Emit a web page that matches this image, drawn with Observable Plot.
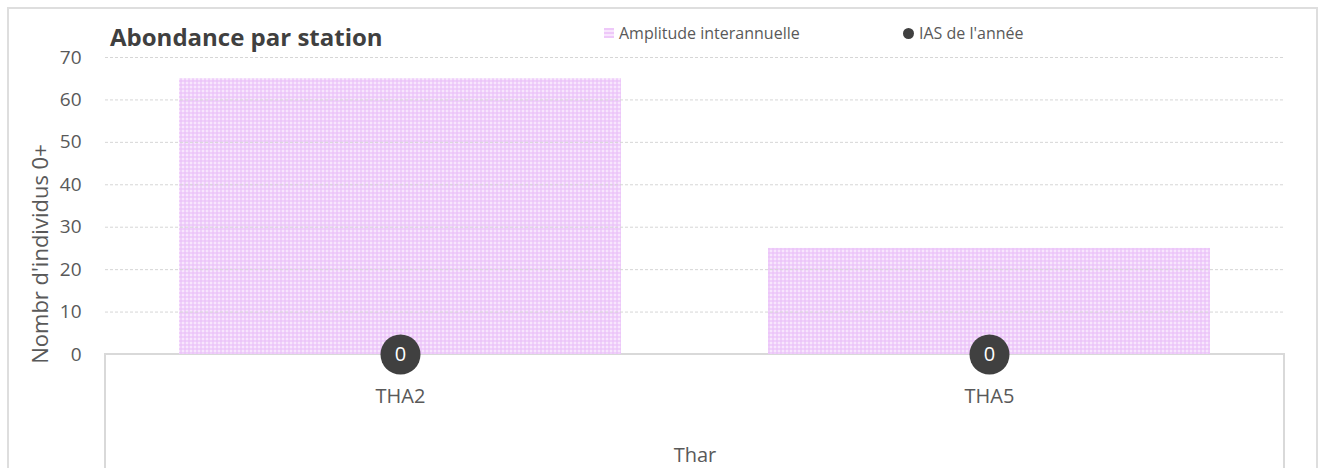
<!DOCTYPE html>
<html>
<head>
<meta charset="utf-8">
<script src="https://cdn.jsdelivr.net/npm/d3@7"></script>
<script src="https://cdn.jsdelivr.net/npm/@observablehq/plot@0.6"></script>
<style>
  html, body { margin: 0; padding: 0; background: #fff; }
  #wrap { position: relative; width: 1322px; height: 468px; overflow: hidden; font-family: "Open Sans", sans-serif; }
  #frame { position: absolute; left: 7px; top: 7px; width: 1311px; height: 480px; border: 2px solid #dedede; box-sizing: border-box; pointer-events: none; }
  #catbox { position: absolute; left: 104px; top: 353px; width: 1181px; height: 130px; border: 2px solid #d9d9d9; border-bottom: none; box-sizing: border-box; }
  #title { position: absolute; left: 110px; top: 20px; font-size: 24px; font-weight: bold; color: #404040; }
  .leg { position: absolute; top: 22px; font-size: 16px; color: #595959; display: flex; align-items: center; }
  .sw { display: inline-block; width: 10px; height: 10px; margin-right: 5px; }
  #chart { position: absolute; left: 0; top: 0; }
</style>
</head>
<body>
<div id="wrap">
  <div id="catbox"></div>
  <div id="chart"></div>
  <div id="frame"></div>
  <div id="title">Abondance par station</div>
  <div class="leg" style="left:604px"><span class="sw" style="background:repeating-linear-gradient(0deg,#eec8f9 0 2px,#f8e6fd 2px 4px)"></span>Amplitude interannuelle</div>
  <div class="leg" style="left:903px"><span class="sw" style="background:#404040;border-radius:50%;width:11px;height:11px"></span>IAS de l'année</div>
</div>
<script>
const stations = ["THA2", "THA5"];
const ampMin = [0, 0];
const ampMax = [65, 25];
const ias = [0, 0];
const yTicks = [0, 10, 20, 30, 40, 50, 60, 70];
const groupLabel = "Thar";
const yLabel = "Nombr d'individus 0+";

const data = stations.map((s, i) => ({station: s, lo: ampMin[i], hi: ampMax[i], ias: ias[i]}));

const chart = Plot.plot({
  width: 1322,
  height: 468,
  marginLeft: 105,
  marginRight: 38,
  marginTop: 57,
  marginBottom: 114,
  style: {fontFamily: "Open Sans, sans-serif", fontSize: "16px", color: "#595959", background: "transparent", overflow: "visible"},
  x: {domain: stations, paddingInner: 0.25, paddingOuter: 0.125, label: null},
  y: {domain: [0, 70], ticks: yTicks, label: null},
  marks: [
    Plot.barY(data, {x: "station", y1: "lo", y2: "hi", fill: "url(#amp-pattern)"}),
    Plot.gridY(yTicks.filter(d => d > 0), {stroke: "#d6d6d6", strokeOpacity: 1, strokeDasharray: "3,2", strokeWidth: 1}),
    Plot.axisY({ticks: yTicks, tickSize: 0, tickPadding: 24, fontSize: 19, fill: "#595959", label: null}),
    Plot.axisX({tickSize: 0, tickPadding: 34, fontSize: 20, fill: "#595959", label: null}),
    Plot.text([yLabel], {frameAnchor: "left", textAnchor: "middle", dx: -65, dy: 48, rotate: -90, fontSize: 22, fill: "#595959"}),
    Plot.text([groupLabel], {frameAnchor: "bottom", dy: 107, fontSize: 20, fill: "#595959"}),
    Plot.dot(data, {x: "station", y: "ias", r: 20, fill: "#404040"}),
    Plot.text(data, {x: "station", y: "ias", text: d => String(d.ias), fill: "#fff", fontSize: 20})
  ]
});

const defs = d3.select(chart).insert("defs", ":first-child");
const pat = defs.append("pattern").attr("id", "amp-pattern").attr("patternUnits", "userSpaceOnUse").attr("width", 4).attr("height", 4);
pat.append("rect").attr("width", 4).attr("height", 4).attr("fill", "#f8e6fd");
pat.append("rect").attr("width", 2).attr("height", 4).attr("fill", "#eac0f8").attr("opacity", 0.6);
pat.append("rect").attr("width", 4).attr("height", 2).attr("fill", "#eac0f8").attr("opacity", 0.6);

document.getElementById("chart").appendChild(chart);
</script>
</body>
</html>
